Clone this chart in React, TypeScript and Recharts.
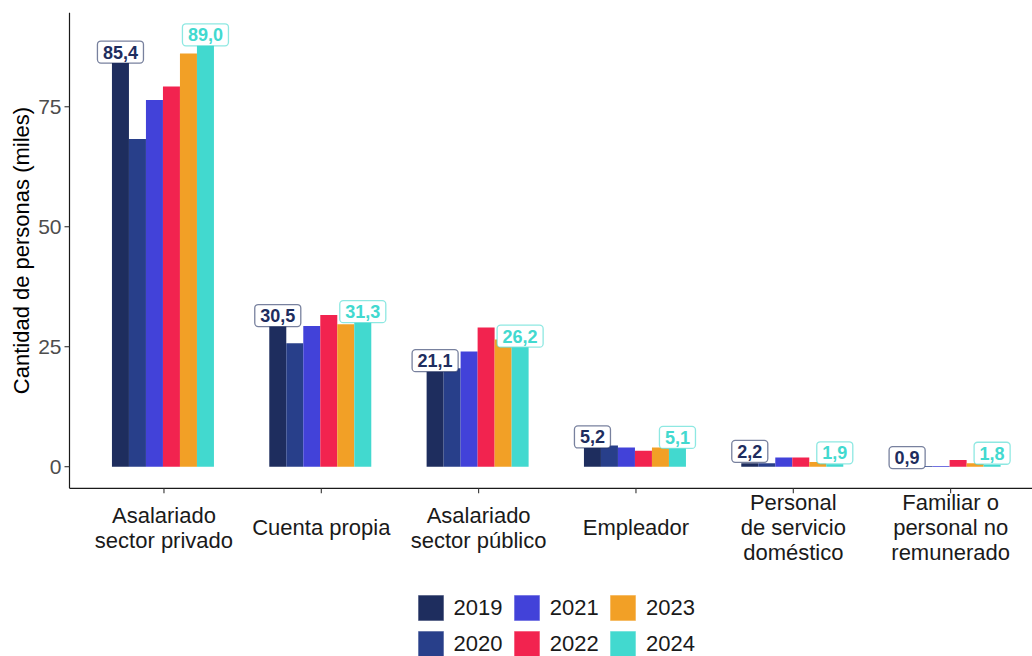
import React from 'react';
import { BarChart, Bar, XAxis, YAxis, Legend, LabelList } from 'recharts';

const categories = [
  'Asalariado\nsector privado',
  'Cuenta propia',
  'Asalariado\nsector público',
  'Empleador',
  'Personal\nde servicio\ndoméstico',
  'Familiar o\npersonal no\nremunerado',
];
const years = ['2019', '2020', '2021', '2022', '2023', '2024'];
const colors = ['#1e2d5e', '#283f8a', '#4242d9', '#f2234f', '#f2a026', '#42d9cf'];

const v2019 = [85.4, 30.5, 21.1, 5.2, 0.7, 0.9];
const v2020 = [68.3, 25.7, 20.5, 4.4, 0.7, 0.15];
const v2021 = [76.4, 29.3, 24.0, 4.0, 1.9, 0.15];
const v2022 = [79.2, 31.6, 29.0, 3.3, 1.9, 1.4];
const v2023 = [86.1, 29.7, 26.5, 4.0, 1.0, 0.7];
const v2024 = [89.0, 31.3, 26.2, 5.1, 0.5, 0.35];
const series = [v2019, v2020, v2021, v2022, v2023, v2024];

const label2019 = [85.4, 30.5, 21.1, 5.2, 2.2, 0.9];
const label2024 = [89.0, 31.3, 26.2, 5.1, 1.9, 1.8];

const yTicks = [0, 25, 50, 75];

const data = categories.map((cat, i) => {
  const row: Record<string, any> = { cat };
  years.forEach((y, k) => {
    row['y' + y] = series[k][i];
  });
  return row;
});

const FONT = '"Liberation Sans", Arial, sans-serif';

const fmt = (v: number) => v.toFixed(1).replace('.', ',');
const textWidth = (s: string, size: number) => {
  let w = 0;
  for (const ch of s) w += ch === ',' ? 0.278 : 0.556;
  return w * size;
};

const ValueLabel = ({ cx, cy, text, color }: any) => {
  const fs = 18;
  const w = textWidth(text, fs) + 11;
  const h = 22;
  return (
    <g>
      <rect
        x={cx - w / 2}
        y={cy - h / 2}
        width={w}
        height={h}
        rx={3.5}
        ry={3.5}
        fill="#ffffff"
        stroke={color}
        strokeOpacity={0.6}
        strokeWidth={1.3}
      />
      <text
        x={cx}
        y={cy + 6.5}
        textAnchor="middle"
        fontFamily={FONT}
        fontWeight="bold"
        fontSize={fs}
        fill={color}
      >
        {text}
      </text>
    </g>
  );
};

const renderLabels = (props: any) => {
  const vb = props.viewBox && props.viewBox.width != null ? props.viewBox : props;
  const { x, y, width, height } = vb;
  const index = props.index;
  if (x == null || index == null) return null;
  const top = Math.min(y, y + height);
  const h = Math.abs(height);
  const base = top + h;
  const ppu = h / v2024[index];
  const unit = ppu; // one data unit in pixels
  const l19 = label2019[index];
  const l24 = label2024[index];
  const cx19 = x - 5 * width + width / 2;
  const cx24 = x + width / 2;
  return (
    <g key={'lbl-' + index}>
      <ValueLabel cx={cx19} cy={base - (l19 + 1) * unit} text={fmt(l19)} color={colors[0]} />
      <ValueLabel cx={cx24} cy={base - (l24 + 1) * unit} text={fmt(l24)} color={colors[5]} />
    </g>
  );
};

const CategoryTick = (props: any) => {
  const { x, y, payload } = props;
  const lines = String(payload.value).split('\n');
  const lh = 25;
  const center = y + 34;
  const first = center - ((lines.length - 1) * lh) / 2;
  return (
    <g>
      {lines.map((ln, i) => (
        <text
          key={i}
          x={x}
          y={first + i * lh + 7.8}
          textAnchor="middle"
          fontFamily={FONT}
          fontSize={22}
          fill="#1a1a1a"
        >
          {ln}
        </text>
      ))}
    </g>
  );
};

const LegendContent = (props: any) => {
  const payload = props.payload || [];
  return (
    <div
      style={{
        display: 'grid',
        gridTemplateColumns: 'repeat(3, 96.3px)',
        gridTemplateRows: 'repeat(2, 36.3px)',
        gridAutoFlow: 'column',
        fontFamily: FONT,
        fontSize: 22,
        color: '#1a1a1a',
      }}
    >
      {payload.map((p: any) => (
        <div key={p.value} style={{ display: 'flex', alignItems: 'center' }}>
          <svg width={26} height={26} style={{ marginRight: 10, flex: 'none' }}>
            <rect
              x={0.5}
              y={0.5}
              width={25}
              height={25}
              fill={p.color}
              stroke={p.color}
              strokeOpacity={0.4}
              strokeWidth={1}
            />
          </svg>
          <span>{p.value}</span>
        </div>
      ))}
    </div>
  );
};

export default function App() {
  return (
    <div
      style={{
        position: 'absolute',
        left: 0,
        top: 0,
        width: 1032,
        height: 656,
        overflow: 'hidden',
        background: '#ffffff',
      }}
    >
      <BarChart
        width={1046}
        height={656}
        data={data}
        margin={{ top: 12.7, right: 0.9, bottom: 67.7, left: 0 }}
        barGap={0}
        barCategoryGap={26.65}
        style={{ fontFamily: FONT }}
      >
        <XAxis
          dataKey="cat"
          type="category"
          height={100}
          padding={{ left: 15.8, right: 15.8 }}
          axisLine={{ stroke: '#1a1a1a', strokeWidth: 1.2 }}
          tickLine={{ stroke: '#333333', strokeWidth: 1.1 }}
          tickSize={5}
          tickMargin={0}
          tick={<CategoryTick />}
          interval={0}
        />
        <YAxis
          type="number"
          domain={[-4.5, 94.6]}
          ticks={yTicks}
          width={69.5}
          axisLine={{ stroke: '#1a1a1a', strokeWidth: 1.2 }}
          tickLine={{ stroke: '#333333', strokeWidth: 1.1 }}
          tickSize={5}
          tickMargin={3}
          tick={{ fill: '#4d4d4d', fontSize: 21, fontFamily: FONT }}
          allowDataOverflow
          label={{
            content: (p: any) => {
              const vb = p.viewBox || {};
              const cy = (vb.y ?? 12.7) + (vb.height ?? 475.6) / 2;
              const cx = 21;
              return (
                <text
                  x={cx}
                  y={cy}
                  transform={`rotate(-90, ${cx}, ${cy})`}
                  textAnchor="middle"
                  dominantBaseline="central"
                  fontFamily={FONT}
                  fontSize={22}
                  fill="#000000"
                >
                  Cantidad de personas (miles)
                </text>
              );
            },
          }}
        />
        <Legend
          layout="horizontal"
          verticalAlign="middle"
          align="center"
          content={<LegendContent />}
          wrapperStyle={{ left: 417.5, top: 589.7, width: 300, height: 73 }}
        />
        {years.map((yr, k) => (
          <Bar
            key={yr}
            dataKey={'y' + yr}
            name={yr}
            fill={colors[k]}
            isAnimationActive={false}
          >
            {k === years.length - 1 ? <LabelList content={renderLabels} /> : null}
          </Bar>
        ))}
      </BarChart>
    </div>
  );
}
